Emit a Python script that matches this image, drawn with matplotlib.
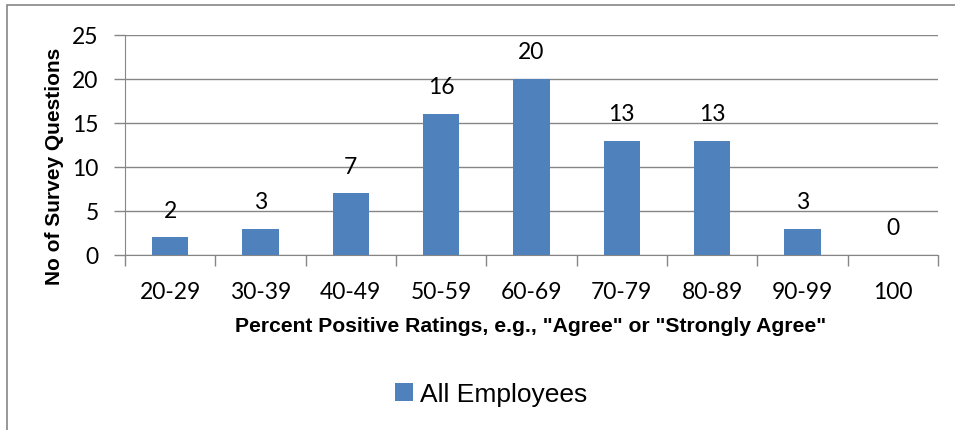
import matplotlib
matplotlib.use("Agg")
import matplotlib.pyplot as plt
from matplotlib.patches import Rectangle

# Distribucion de preguntas por porcentaje de respuestas positivas
categorias = ["20-29", "30-39", "40-49", "50-59", "60-69", "70-79", "80-89", "90-99", "100"]
num_preguntas = [2, 3, 7, 16, 20, 13, 13, 3, 0]
serie = "All Employees"

color_barra = "#4F81BD"
gris = "#868686"

W, H = 955, 431
fig = plt.figure(figsize=(W/100, H/100), dpi=100)

# marco gris del grafico
fig.patches.append(Rectangle((7/W, -0.1), 1.2, (H - 6)/H + 0.1, transform=fig.transFigure,
                             fill=False, edgecolor=gris, linewidth=1.2))

ax = fig.add_axes([125/W, (H - 256)/H, (938 - 125)/W, (256 - 36)/H])

x = list(range(len(categorias)))
barras = ax.bar(x, num_preguntas, width=0.4, color=color_barra, label=serie, zorder=3)

for xi, v in zip(x, num_preguntas):
    ax.text(xi, v + 3.1, str(v), ha="center", va="center", fontsize=16.5, family="Lato")

ax.set_xlim(-0.5, len(categorias) - 0.5)
ax.set_ylim(0, 25)
ax.set_yticks([0, 5, 10, 15, 20, 25])
ax.set_xticks(x)
ax.set_xticklabels(categorias, family="Lato", fontsize=16.5)
for lbl in ax.get_yticklabels():
    lbl.set_family("Lato")
    lbl.set_fontsize(16.5)
ax.set_xticks([i - 0.5 for i in range(len(categorias) + 1)], minor=True)

ax.tick_params(axis="x", which="major", length=0, pad=19)
ax.tick_params(axis="x", which="minor", length=8, color=gris, width=1)
ax.tick_params(axis="y", length=8, color=gris, width=1, pad=11)

ax.grid(axis="y", color=gris, linewidth=1, zorder=0)
for s in ["top", "right"]:
    ax.spines[s].set_visible(False)
ax.spines["left"].set_color(gris)
ax.spines["bottom"].set_color(gris)

fig.text(531/W, (H - 327)/H, 'Percent Positive Ratings, e.g., "Agree" or "Strongly Agree"',
         ha="center", va="center", fontsize=15.2, fontweight="bold", family="Liberation Sans")
fig.text(55/W, (H - 166)/H, "No of Survey Questions", rotation=90,
         ha="center", va="center", fontsize=15, fontweight="bold", family="Liberation Sans")

fig.legend(handles=[barras], labels=[serie], loc="center", bbox_to_anchor=(491/W, (H - 395)/H),
           frameon=False, handlelength=0.7, handleheight=0.7, handletextpad=0.25,
           prop={"family": "Liberation Sans", "size": 19})

fig.savefig("out.png", dpi=100)
